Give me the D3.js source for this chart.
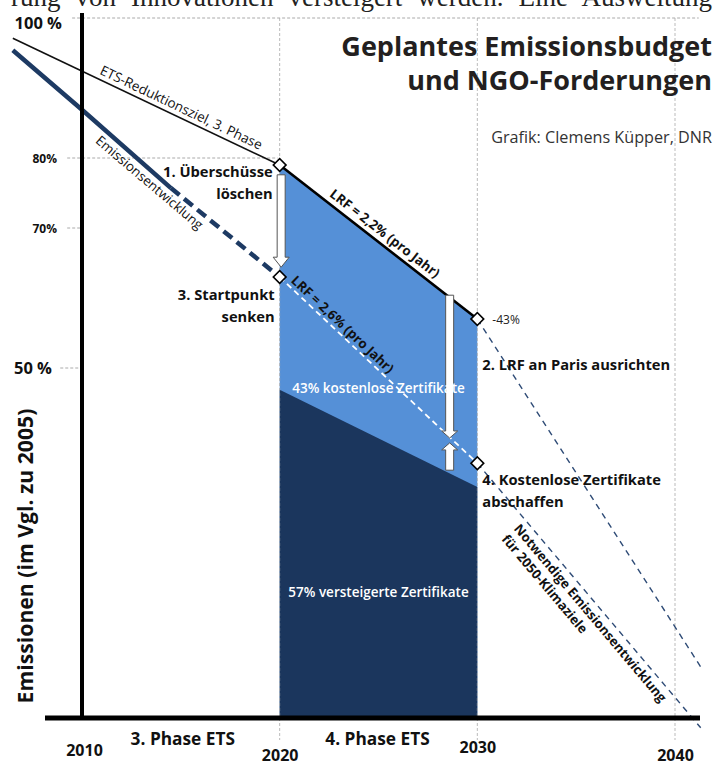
<!DOCTYPE html>
<html>
<head>
<meta charset="utf-8">
<script src="https://cdn.jsdelivr.net/npm/d3@7"></script>
<style>
  body { margin: 0; background: #fff; }
  svg { display: block; }
  .sans { font-family: "Open Sans", Lato, sans-serif; }
  .bold { font-family: "Open Sans", Lato, sans-serif; font-weight: 700; fill: #111; }
</style>
</head>
<body>
<div id="chart"></div>
<script>
// --- data (% of 2005 emissions) ---
const yearTicks = [2010, 2020, 2030, 2040];
const pctTicks = [100, 80, 70, 50];
const pctTickLabels = ["100 %", "80%", "70%", "50 %"];
const phaseLabels = ["3. Phase ETS", "4. Phase ETS"];
const phaseCenters = [2015.1, 2024.95];

const etsPhase3 = [[2006.5, 97.1], [2020, 79]];          // ETS-Reduktionsziel, 3. Phase
const lrf22 = [[2020, 79], [2030, 57]];                   // planned cap, LRF 2.2 %
const emissionsPast = [[2006.5, 95.4], [2010, 86.9], [2014.5, 75.7]];
const emissionsTrend = [[2014.5, 75.7], [2020, 63]];
const lrf26 = [[2020, 63], [2030, 36.4]];                 // NGO path, LRF 2.6 %
const parisCap = [[2030, 57], [2041.3, 7.3]];
const parisNeeded = [[2030, 36.4], [2041.3, -1.4]];
const budgetTotal = [[2020, 79], [2030, 57]];
const budgetAuctioned = [[2020, 46.9], [2030, 33]];
const markers = [[2020, 79], [2020, 63], [2030, 57], [2030, 36.4]];

const BLUE = "#5590d7", NAVY = "#1b365d", LINE_NAVY = "#1d3a63", DASH_NAVY = "#2e4b76";

const W = 718, H = 765;
const svg = d3.select("#chart").append("svg").attr("width", W).attr("height", H);

const x = d3.scaleLinear().domain([2010, 2040]).range([82, 675]);
const y = d3.scaleLinear().domain([0, 100]).range([718, 18]);
const line = d3.line().x(d => x(d[0])).y(d => y(d[1]));
const area = d3.area().x(d => x(d[0])).y0(y(0)).y1(d => y(d[1]));

// page text cut off at the top (surrounding article)
const topText = svg.append("text")
  .attr("x", 11).attr("y", 6)
  .attr("font-family", "'Liberation Serif', 'DejaVu Serif', serif")
  .attr("font-size", 27).attr("fill", "#222")
  .text("rung von Innovationen versteigert werden. Eine Ausweitung");
const natural = topText.node().getComputedTextLength();
topText.style("word-spacing", Math.max(0, (701 - natural) / 6) + "px");

// budget areas
svg.append("path").datum(budgetTotal).attr("d", area).attr("fill", BLUE);
svg.append("path").datum(budgetAuctioned).attr("d", area).attr("fill", NAVY);

// grid lines
const grid = svg.append("g").attr("stroke", "#aaa").attr("stroke-width", 1)
  .attr("stroke-dasharray", "3,2").attr("fill", "none");
grid.append("line").attr("x1", x(2009.5)).attr("x2", x(2041.2)).attr("y1", y(100)).attr("y2", y(100));
grid.append("line").attr("x1", x(2009.25)).attr("x2", x(2020) - 2).attr("y1", y(80)).attr("y2", y(80));
grid.append("line").attr("x1", x(2009.25)).attr("x2", x(2010)).attr("y1", y(70)).attr("y2", y(70));
grid.append("line").attr("x1", x(2008.9)).attr("x2", x(2010)).attr("y1", y(50)).attr("y2", y(50));
grid.selectAll(".v").data(yearTicks.slice(1)).enter().append("line")
  .attr("x1", d => x(d)).attr("x2", d => x(d))
  .attr("y1", y(100)).attr("y2", 740)
  .attr("stroke-opacity", 0.8);

// lines
svg.append("path").datum(etsPhase3).attr("d", line)
  .attr("fill", "none").attr("stroke", "#111").attr("stroke-width", 1.6);
svg.append("path").datum(lrf22).attr("d", line)
  .attr("fill", "none").attr("stroke", "#000").attr("stroke-width", 2.6);
svg.append("path").datum(emissionsPast).attr("d", line)
  .attr("fill", "none").attr("stroke", LINE_NAVY).attr("stroke-width", 4.5);
svg.append("path").datum(emissionsTrend).attr("d", line)
  .attr("fill", "none").attr("stroke", LINE_NAVY).attr("stroke-width", 4.5)
  .attr("stroke-dasharray", "11,6");
svg.append("path").datum(lrf26).attr("d", line)
  .attr("fill", "none").attr("stroke", "#fff").attr("stroke-width", 1.8)
  .attr("stroke-dasharray", "6,4");
[parisCap, parisNeeded].forEach(seg => {
  svg.append("path").datum(seg).attr("d", line)
    .attr("fill", "none").attr("stroke", DASH_NAVY).attr("stroke-width", 1.4)
    .attr("stroke-dasharray", "6,5");
});

// axes (thick black lines)
svg.append("line").attr("x1", x(2010)).attr("x2", x(2010)).attr("y1", 13).attr("y2", y(0))
  .attr("stroke", "#000").attr("stroke-width", 4);
svg.append("line").attr("x1", 45).attr("x2", 700).attr("y1", y(0)).attr("y2", y(0))
  .attr("stroke", "#000").attr("stroke-width", 5);

// year tick labels
const tickNudge = { 2010: -2, 2020: 3, 2030: -5, 2040: 3 };
const xAxis = svg.append("g").attr("transform", `translate(0,${y(0)})`)
  .call(d3.axisBottom(x).tickValues(yearTicks).tickFormat(d3.format("d")).tickSize(0).tickPadding(0));
xAxis.select(".domain").remove();
xAxis.selectAll("text")
  .attr("class", "bold").attr("font-size", 16).attr("fill", "#111")
  .attr("dy", null)
  .attr("y", d => 40 + tickNudge[d]);
xAxis.select(".tick text").attr("x", 2);

// pct tick labels
const yAxis = svg.append("g").attr("transform", `translate(${x(2010)},0)`)
  .call(d3.axisLeft(y).tickValues(pctTicks).tickFormat((d, i) => pctTickLabels[i]).tickSize(0).tickPadding(0));
yAxis.select(".domain").remove();
yAxis.selectAll("text")
  .attr("class", "bold").attr("fill", "#111")
  .attr("font-size", d => (d === 100 || d === 50) ? 16.5 : 12)
  .attr("dy", d => (d === 100 || d === 50) ? "0.35em" : "0.4em")
  .attr("x", d => d === 100 ? -20 : d === 50 ? -30 : -25);
yAxis.selectAll(".tick").filter(d => d === 100).attr("transform", `translate(0,${y(100) + 5})`);

// phase labels
svg.selectAll(".phase").data(phaseLabels).enter().append("text")
  .attr("class", "bold").attr("font-size", 17.3).attr("text-anchor", "middle")
  .attr("x", (d, i) => x(phaseCenters[i])).attr("y", 745)
  .text(d => d);

// y axis title
svg.append("text").attr("class", "bold").attr("font-size", 21.2)
  .attr("text-anchor", "middle")
  .attr("transform", "translate(33,556) rotate(-90)")
  .text("Emissionen (im Vgl. zu 2005)");

// arrows
function arrow(xc, yTail, yTip, shaftW, headW, headL) {
  const dir = yTip > yTail ? 1 : -1;
  const yBase = yTip - dir * headL;
  const pts = [
    [xc - shaftW / 2, yTail], [xc + shaftW / 2, yTail], [xc + shaftW / 2, yBase],
    [xc + headW / 2, yBase], [xc, yTip], [xc - headW / 2, yBase], [xc - shaftW / 2, yBase]
  ];
  svg.append("path").attr("d", "M" + pts.join("L") + "Z")
    .attr("fill", "#fff").attr("stroke", "#555").attr("stroke-width", 1);
}
arrow(x(2020) + 1.5, y(77.6), y(64.4), 8, 16, 10);
arrow(x(2028.6), y(60.4), y(40), 8, 16, 7);
arrow(x(2028.6), y(35.4), y(39.3), 8, 16, 7);

// diamond markers
svg.selectAll(".mk").data(markers).enter().append("rect")
  .attr("x", -4.5).attr("y", -4.5).attr("width", 9).attr("height", 9)
  .attr("transform", d => `translate(${x(d[0])},${y(d[1])}) rotate(45)`)
  .attr("fill", "#fff").attr("stroke", "#000").attr("stroke-width", 1.6);

// labels along lines
function alongLabel(seg, year, txt, dy, size, weight, fill) {
  const [a, b] = [seg[0], seg[seg.length - 1]];
  const xa = x(a[0]), ya = y(a[1]), xb = x(b[0]), yb = y(b[1]);
  const ang = Math.atan2(yb - ya, xb - xa) * 180 / Math.PI;
  const px = x(year), py = ya + (yb - ya) * (px - xa) / (xb - xa);
  svg.append("text").attr("class", "sans")
    .attr("transform", `translate(${px},${py}) rotate(${ang})`)
    .attr("dy", dy).attr("font-size", size).attr("font-weight", weight)
    .attr("fill", fill || "#111").text(txt);
}
alongLabel(etsPhase3, 2010.75, "ETS-Reduktionsziel, 3. Phase", -5, 13.5, 400);
alongLabel([emissionsPast[0], emissionsTrend[1]], 2011.2, "Emissionsentwicklung", 17, 13.3, 400);
alongLabel(lrf22, 2022.3, "LRF = 2,2% (pro Jahr)", -6, 13.3, 700);
alongLabel(lrf26, 2020.4, "LRF = 2,6% (pro Jahr)", -4, 13.3, 700);
alongLabel(parisNeeded, 2032.4, "Notwendige Emissionsentwicklung", 15, 13.1, 700);
alongLabel(parisNeeded, 2032.4, "für 2050-Klimaziele", 31, 13.1, 700);

// step annotations
function note(px, py, lines, anchor) {
  const t = svg.append("text").attr("class", "bold").attr("font-size", 14.7)
    .attr("text-anchor", anchor);
  lines.forEach((s, i) => t.append("tspan").attr("x", px).attr("y", py + i * 21.5).text(s));
}
note(x(2020) - 7, y(79) + 12, ["1. Überschüsse", "löschen"], "end");
note(x(2020) - 5, y(63) + 23, ["3. Startpunkt", "senken"], "end");
note(x(2030) + 5, y(57) + 51, ["2. LRF an Paris ausrichten"], "start");
note(x(2030) + 5, y(36.4) + 22, ["4. Kostenlose Zertifikate", "abschaffen"], "start");

svg.append("text").attr("font-family", "'Open Sans', sans-serif").attr("font-size", 12)
  .attr("fill", "#222").attr("x", x(2030) + 15).attr("y", y(57) + 5).text("-43%");

// labels inside the budget areas
svg.append("text").attr("class", "sans").attr("font-weight", 600).attr("font-size", 13.5)
  .attr("fill", "#fff").attr("text-anchor", "middle")
  .attr("x", x(2025)).attr("y", y(46.4)).text("43% kostenlose Zertifikate");
svg.append("text").attr("class", "sans").attr("font-weight", 600).attr("font-size", 13.5)
  .attr("fill", "#fff").attr("text-anchor", "middle")
  .attr("x", x(2025)).attr("y", y(17.3)).text("57% versteigerte Zertifikate");

// title block
const title = svg.append("g").attr("font-family", "'Open Sans', sans-serif").attr("text-anchor", "end");
title.append("text").attr("x", 712).attr("y", 56).attr("font-size", 27).attr("font-weight", 700)
  .attr("fill", "#231f20").text("Geplantes Emissionsbudget");
title.append("text").attr("x", 712).attr("y", 90).attr("font-size", 27).attr("font-weight", 700)
  .attr("fill", "#231f20").text("und NGO-Forderungen");
title.append("text").attr("x", 712).attr("y", 143).attr("font-size", 16.2)
  .attr("fill", "#333").text("Grafik: Clemens Küpper, DNR");
</script>
</body>
</html>
